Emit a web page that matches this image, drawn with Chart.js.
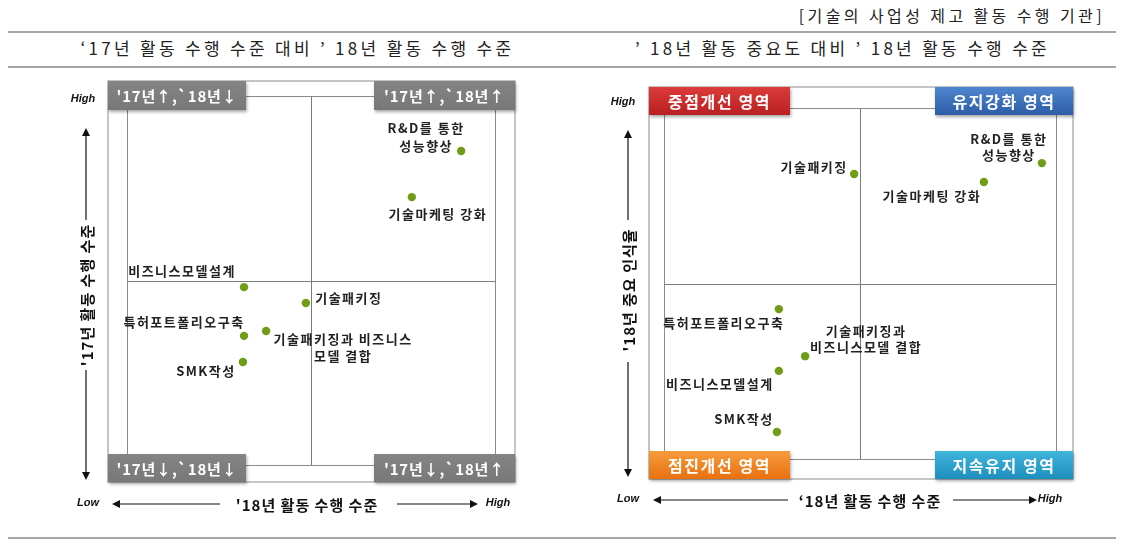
<!DOCTYPE html>
<html>
<head>
<meta charset="utf-8">
<script src="https://cdn.jsdelivr.net/npm/chart.js@4/dist/chart.umd.min.js"></script>
<style>
  html, body { margin:0; padding:0; background:#fff; }
  body { width:1125px; height:558px; position:relative; overflow:hidden; font-family:"Noto Sans CJK KR", sans-serif; color:#222; }
  .hline { position:absolute; left:8px; width:1108px; height:0; border-top:2px solid #a6a6a6; }
  .txt { position:absolute; white-space:nowrap; }
  canvas { position:absolute; }
</style>
</head>
<body>
<div class="txt" id="caption" style="right:20px; top:3px; font-size:16px; letter-spacing:3.4px;">[기술의 사업성 제고 활동 수행 기관]</div>
<div class="hline" style="top:31px;"></div>
<div class="txt" id="t1" style="left:0px; width:595px; text-align:center; top:35px; font-size:17px; letter-spacing:3.3px;">‘17년 활동 수행 수준 대비 ’ 18년 활동 수행 수준</div>
<div class="txt" id="t2" style="left:545px; width:595px; text-align:center; top:35px; font-size:17px; letter-spacing:3.3px;">’ 18년 활동 중요도 대비 ’ 18년 활동 수행 수준</div>
<div class="hline" style="top:66px;"></div>
<div class="hline" style="top:537px;"></div>

<canvas id="c1" width="560" height="465" style="left:0; top:70px;"></canvas>
<canvas id="c2" width="565" height="465" style="left:560px; top:70px;"></canvas>

<script>
// ---------------- DATA ----------------
const leftCategories = ['R&D를 통한\n성능향상', '기술마케팅 강화', '비즈니스모델설계', '기술패키징', '특허포트폴리오구축', '기술패키징과 비즈니스\n모델 결합', 'SMK작성'];
const left18Performance = [90.8, 77.4, 31.8, 48.6, 31.8, 37.8, 31.5];
const left17Performance = [85.1, 72.6, 48.2, 43.9, 35.0, 36.3, 27.9];
const leftQuadrants = ["'17년↑,`18년↓", "'17년↑,`18년↑", "'17년↓,`18년↓", "'17년↓,`18년↑"];
const leftXTitle = "'18년 활동 수행 수준";
const leftYTitle = "'17년 활동 수행 수준";

const rightCategories = ['R&D를 통한\n성능향상', '기술마케팅 강화', '기술패키징', '특허포트폴리오구축', '기술패키징과\n비즈니스모델 결합', '비즈니스모델설계', 'SMK작성'];
const right18Performance = [96.4, 81.6, 48.5, 29.3, 36.0, 29.3, 28.8];
const right18Importance = [84.3, 78.9, 81.2, 42.7, 29.3, 25.1, 7.7];
const rightQuadrants = ['중점개선 영역', '유지강화 영역', '점진개선 영역', '지속유지 영역'];
const rightXTitle = "‘18년 활동 수행 수준";
const rightYTitle = "'18년 중요 인식율";

const axisLow = 'Low';
const axisHigh = 'High';

// ---------------- STYLE ----------------
const pointColor = '#6f9d16';
const leftLabelStyle = [
  {dx:-35, dy:-23, lh:18}, {dx:26, dy:17}, {dx:-62, dy:-16}, {dx:43, dy:-5},
  {dx:-60, dy:-14}, {dx:77, dy:8, lh:17}, {dx:-37, dy:9}
];
const rightLabelStyle = [
  {dx:-33, dy:-24, lh:16}, {dx:-52, dy:14}, {dx:-40, dy:-7}, {dx:-55, dy:14},
  {dx:61, dy:-25, lh:16}, {dx:-59, dy:13}, {dx:-33, dy:-13}
];
const leftDeco = {
  outer:{l:19, r:20, t:15, b:17}, boxW:[138, 141], boxH:[29, 28],
  boxFill:[['#848484','#787878'],['#848484','#787878'],['#848484','#787878'],['#848484','#787878']],
  boxFont:'bold 15px "Noto Sans CJK KR"', boxLS:'0.8px',
  high:{x:83, y:29}, yArrow:{x:86, top:58, tEnd:150, tc:225, bStart:300, bottom:410},
  xArrow:{y:434, low:88, lTip:112, lTail:220, tc:307, rTail:397, rTip:478, high:498}
};
const rightDeco = {
  outer:{l:15, r:17, t:21, b:20}, boxW:[141, 138], boxH:[28, 28],
  boxFill:[['#dc3b3a','#b91f21'],['#4f86cf','#2d5da6'],['#f79c3c','#e8700f'],['#3fb4dc','#1e8fbd']],
  boxFont:'bold 16px "Noto Sans CJK KR"', boxLS:'1.6px',
  high:{x:63, y:32}, yArrow:{x:68, top:60, tEnd:150, tc:220, bStart:292, bottom:407},
  xArrow:{y:430, low:68, lTip:93, lTail:228, tc:310, rTail:393, rTip:477, high:490}
};

function arrowHead(ctx, x, y, dir) {
  const s = 4, L = 8;
  ctx.beginPath();
  if (dir === 'up') { ctx.moveTo(x, y); ctx.lineTo(x - s, y + L); ctx.lineTo(x + s, y + L); }
  if (dir === 'down') { ctx.moveTo(x, y); ctx.lineTo(x - s, y - L); ctx.lineTo(x + s, y - L); }
  if (dir === 'left') { ctx.moveTo(x, y); ctx.lineTo(x + L, y - s); ctx.lineTo(x + L, y + s); }
  if (dir === 'right') { ctx.moveTo(x, y); ctx.lineTo(x - L, y - s); ctx.lineTo(x - L, y + s); }
  ctx.closePath(); ctx.fill();
}

function makeDecoPlugin(deco, quads, xTitle, yTitle) {
  return {
    id: 'quadDeco',
    beforeDatasetsDraw(chart) {
      const ctx = chart.ctx, a = chart.chartArea;
      const xs = chart.scales.x, ys = chart.scales.y;
      const o = deco.outer;
      const L = a.left - o.l, R = a.right + o.r, T = a.top - o.t, B = a.bottom + o.b;
      ctx.save();
      // outer box
      ctx.strokeStyle = '#b3b3b3'; ctx.lineWidth = 1.5;
      ctx.strokeRect(L, T, R - L, B - T);
      // inner frame
      ctx.strokeStyle = '#8a8a8a'; ctx.lineWidth = 1;
      ctx.strokeRect(Math.round(xs.getPixelForValue(0)) + 0.5, Math.round(ys.getPixelForValue(100)) + 0.5,
        Math.round(xs.getPixelForValue(100) - xs.getPixelForValue(0)), Math.round(ys.getPixelForValue(0) - ys.getPixelForValue(100)));
      // mid lines
      const mx = Math.round(xs.getPixelForValue(50)) + 0.5, my = Math.round(ys.getPixelForValue(50)) + 0.5;
      ctx.strokeStyle = '#7a7a7a';
      ctx.beginPath(); ctx.moveTo(mx, ys.getPixelForValue(100)); ctx.lineTo(mx, ys.getPixelForValue(0)); ctx.stroke();
      ctx.beginPath(); ctx.moveTo(xs.getPixelForValue(0), my); ctx.lineTo(xs.getPixelForValue(100), my); ctx.stroke();
      // quadrant label boxes
      const boxes = [
        {x:L, y:T, w:deco.boxW[0], h:deco.boxH[0]},
        {x:R - deco.boxW[1], y:T, w:deco.boxW[1], h:deco.boxH[0]},
        {x:L, y:B - deco.boxH[1], w:deco.boxW[0], h:deco.boxH[1]},
        {x:R - deco.boxW[1], y:B - deco.boxH[1], w:deco.boxW[1], h:deco.boxH[1]}
      ];
      boxes.forEach((bx, i) => {
        const g = ctx.createLinearGradient(0, bx.y, 0, bx.y + bx.h);
        g.addColorStop(0, deco.boxFill[i][0]); g.addColorStop(1, deco.boxFill[i][1]);
        ctx.save();
        ctx.shadowColor = 'rgba(0,0,0,0.35)'; ctx.shadowBlur = 3; ctx.shadowOffsetX = 1; ctx.shadowOffsetY = 2;
        ctx.fillStyle = g; ctx.fillRect(bx.x, bx.y, bx.w, bx.h);
        ctx.restore();
        ctx.save();
        ctx.fillStyle = '#fff'; ctx.font = deco.boxFont; ctx.letterSpacing = deco.boxLS;
        ctx.textAlign = 'center'; ctx.textBaseline = 'middle';
        ctx.fillText(quads[i], bx.x + bx.w / 2, bx.y + bx.h / 2 + 1);
        ctx.restore();
      });
      // axis arrows & titles
      ctx.fillStyle = '#111'; ctx.strokeStyle = '#111'; ctx.lineWidth = 1.2;
      const ya = deco.yArrow;
      ctx.beginPath(); ctx.moveTo(ya.x, ya.top + 6); ctx.lineTo(ya.x, ya.tEnd); ctx.stroke();
      arrowHead(ctx, ya.x, ya.top, 'up');
      ctx.beginPath(); ctx.moveTo(ya.x, ya.bStart); ctx.lineTo(ya.x, ya.bottom - 6); ctx.stroke();
      arrowHead(ctx, ya.x, ya.bottom, 'down');
      ctx.save();
      ctx.translate(ya.x + 1, ya.tc); ctx.rotate(-Math.PI / 2);
      ctx.font = 'bold 15px "Noto Sans CJK KR"'; ctx.letterSpacing = '1px';
      ctx.textAlign = 'center'; ctx.textBaseline = 'middle';
      ctx.fillText(yTitle, 0, 0);
      ctx.restore();
      const xa = deco.xArrow;
      ctx.beginPath(); ctx.moveTo(xa.lTip + 6, xa.y); ctx.lineTo(xa.lTail, xa.y); ctx.stroke();
      arrowHead(ctx, xa.lTip, xa.y, 'left');
      ctx.beginPath(); ctx.moveTo(xa.rTail, xa.y); ctx.lineTo(xa.rTip - 6, xa.y); ctx.stroke();
      arrowHead(ctx, xa.rTip, xa.y, 'right');
      ctx.save();
      ctx.font = 'bold 15px "Noto Sans CJK KR"'; ctx.letterSpacing = '1px';
      ctx.textAlign = 'center'; ctx.textBaseline = 'middle';
      ctx.fillText(xTitle, xa.tc, xa.y + 1);
      ctx.restore();
      ctx.textAlign = 'center'; ctx.textBaseline = 'middle';
      ctx.font = 'italic bold 11px "Liberation Sans"';
      ctx.fillText(axisLow, xa.low, xa.y - 1);
      ctx.fillText(axisHigh, xa.high, xa.y - 1);
      ctx.fillText(axisHigh, deco.high.x, deco.high.y);
      ctx.restore();
    },
    afterDatasetsDraw(chart) {
      const ctx = chart.ctx;
      const meta = chart.getDatasetMeta(0);
      const ds = chart.data.datasets[0];
      ctx.save();
      ctx.font = 'bold 13px "Noto Sans CJK KR"';
      ctx.letterSpacing = '1.5px';
      ctx.fillStyle = '#222'; ctx.textAlign = 'center'; ctx.textBaseline = 'middle';
      meta.data.forEach((pt, i) => {
        const st = ds.labelStyle[i];
        const lines = ds.names[i].split('\n');
        lines.forEach((ln, j) => {
          ctx.fillText(ln, pt.x + st.dx, pt.y + st.dy + j * (st.lh || 17));
        });
      });
      ctx.restore();
    }
  };
}

function buildChart(id, names, xs, ys, labelStyle, padding, deco, quads, xTitle, yTitle) {
  return new Chart(document.getElementById(id), {
    type: 'scatter',
    data: {
      datasets: [{
        data: xs.map((x, i) => ({x: x, y: ys[i]})),
        names: names,
        labelStyle: labelStyle,
        pointRadius: 4.2,
        pointHoverRadius: 4.2,
        pointBackgroundColor: pointColor,
        pointBorderColor: pointColor,
        pointBorderWidth: 0,
        clip: false
      }]
    },
    options: {
      responsive: false,
      animation: false,
      events: [],
      layout: { padding: padding },
      plugins: { legend: { display: false }, tooltip: { enabled: false } },
      scales: {
        x: { type: 'linear', min: 0, max: 100, display: false },
        y: { type: 'linear', min: 0, max: 100, display: false }
      }
    },
    plugins: [makeDecoPlugin(deco, quads, xTitle, yTitle)]
  });
}

buildChart('c1', leftCategories, left18Performance, left17Performance, leftLabelStyle,
  {left:127, right:65, top:26, bottom:70}, leftDeco, leftQuadrants, leftXTitle, leftYTitle);
buildChart('c2', rightCategories, right18Performance, right18Importance, rightLabelStyle,
  {left:104, right:69, top:38, bottom:76}, rightDeco, rightQuadrants, rightXTitle, rightYTitle);
</script>
</body>
</html>
